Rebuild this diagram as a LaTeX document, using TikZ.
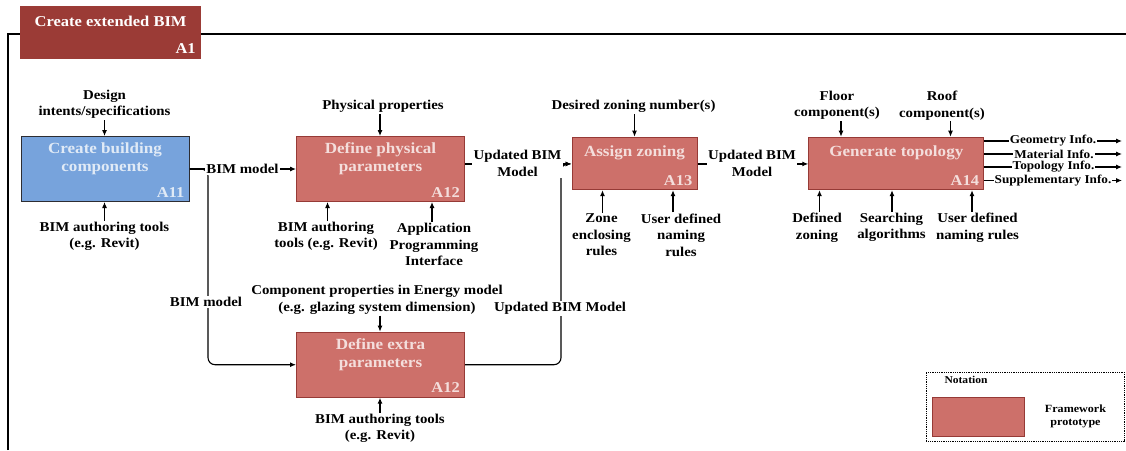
\documentclass[tikz,border=0pt]{standalone}
\usepackage{fontspec}
\setmainfont{Liberation Serif}[FakeStretch=1.1]
\usetikzlibrary{arrows.meta,calc}

\definecolor{hdrred}{RGB}{155,59,54}
\definecolor{protofill}{RGB}{205,112,106}
\definecolor{protoedge}{RGB}{150,58,54}
\definecolor{protofont}{RGB}{244,222,220}
\definecolor{bluefill}{RGB}{119,163,220}
\definecolor{blueedge}{RGB}{45,45,50}
\definecolor{bluefont}{RGB}{224,234,246}

\begin{document}
\begin{tikzpicture}[x=1pt,y=-1pt,
  frameline/.style={line width=1.8pt,black},
  protobox/.style={draw=protoedge,fill=protofill,line width=1pt,anchor=north west,inner sep=0pt},
  bluebox/.style={draw=blueedge,fill=bluefill,line width=1pt,anchor=north west,inner sep=0pt},
  boxtitle/.style={align=center,inner sep=0pt,font=\fontsize{15.5}{18}\selectfont\bfseries,text=protofont},
  boxid/.style={anchor=base east,inner sep=0pt,font=\fontsize{15}{18}\selectfont\bfseries,text=protofont},
  lbl/.style={align=center,inner sep=1pt,font=\fontsize{13.5}{16.5}\selectfont\bfseries},
  onlbl/.style={lbl,fill=white,inner sep=1.5pt},
  outlbl/.style={align=center,fill=white,inner sep=1pt,font=\fontsize{12}{14}\selectfont\bfseries},
  conn/.style={line width=1.1pt,black},
  arr/.style={conn,-{Latex[length=6pt,width=5pt]}},
  roundbend/.style={rounded corners=7pt}]

\useasboundingbox (0,0) rectangle (1126,450);

% outer frame of the A1 activity
\coordinate (fbl) at (8,450);
\coordinate (ftl) at (8,34);
\coordinate (ftr) at (1126,34);
\draw[frameline] (fbl) -- (ftl) -- (ftr);

% A1 header
\node[fill=hdrred,anchor=north west,minimum width=181,minimum height=53,inner sep=0pt] (A1) at (19.5,5.5) {};
\node[anchor=west,inner sep=0pt,text=white,font=\fontsize{15}{18}\selectfont\bfseries] (A1t) at ($(A1.north west)+(15,16)$) {Create extended BIM};
\node[boxid,text=white] (A1id) at ($(A1.south east)+(-5,-5)$) {A1};

% activity boxes
\node[bluebox,minimum width=168,minimum height=65] (A11) at (20.5,136) {};
\node[protobox,minimum width=168,minimum height=65] (A12) at (296,136) {};
\node[protobox,minimum width=125,minimum height=52.5] (A13) at (571.5,136.7) {};
\node[protobox,minimum width=175,minimum height=52.5] (A14) at (808.3,136.7) {};
\node[protobox,minimum width=168,minimum height=65] (A12b) at (296,331.7) {};

\node[boxtitle,text=bluefont] (A11t) at ($(A11.north)+(0,23)$) {Create building\\components};
\node[boxid,text=bluefont] (A11id) at ($(A11.south east)+(-5,-5)$) {A11};
\node[boxtitle] (A12t) at ($(A12.north)+(0,23)$) {Define physical\\parameters};
\node[boxid] (A12id) at ($(A12.south east)+(-5,-5)$) {A12};
\node[boxtitle] (A13t) at ($(A13.north)+(0,16.5)$) {Assign zoning};
\node[boxid] (A13id) at ($(A13.south east)+(-5,-5)$) {A13};
\node[boxtitle] (A14t) at ($(A14.north)+(0,16)$) {Generate topology};
\node[boxid] (A14id) at ($(A14.south east)+(-5,-5)$) {A14};
\node[boxtitle] (A12bt) at ($(A12b.north)+(0,23)$) {Define extra\\parameters};
\node[boxid] (A12bid) at ($(A12b.south east)+(-5,-5)$) {A12};

% inputs, controls and mechanisms
\node[lbl] (des) at (104.5,104.5) {Design\\intents/specifications};
\node[lbl] (bat1) at (104.5,236.5) {BIM authoring tools\\(e.g. Revit)};
\node[lbl] (phys) at (383,106.5) {Physical properties};
\node[lbl] (bat2) at (326,236.5) {BIM authoring\\tools (e.g. Revit)};
\node[lbl] (api) at (434,244.5) {Application\\Programming\\Interface};
\node[lbl] (comp) at (377,300) {Component properties in Energy model\\(e.g. glazing system dimension)};
\node[lbl] (bat3) at (380,428.5) {BIM authoring tools\\(e.g. Revit)};
\node[lbl] (des2) at (633.5,106.5) {Desired zoning number(s)};
\node[lbl] (zone) at (601.5,235) {Zone\\enclosing\\rules};
\node[lbl] (udn1) at (681,235) {User defined\\naming\\rules};
\node[lbl] (floor) at (837,105.5) {Floor\\component(s)};
\node[lbl] (roof) at (942,105.5) {Roof\\component(s)};
\node[lbl] (defz) at (817,227.5) {Defined\\zoning};
\node[lbl] (srch) at (891.5,227.5) {Searching\\algorithms};
\node[lbl] (udn2) at (977.5,227.5) {User defined\\naming rules};

\draw[arr] (des.south) -- (des.south |- A11.north);
\draw[arr] (bat1.north) -- (bat1.north |- A11.south);
\draw[arr] ([xshift=-3]phys.south) -- ([xshift=-3]phys.south |- A12.north);
\draw[arr] ([xshift=1.5]bat2.north) -- ([xshift=1.5]bat2.north |- A12.south);
\draw[arr] ([xshift=-2]api.north) -- ([xshift=-2]api.north |- A12.south);
\draw[arr] ([xshift=3]comp.south) -- ([xshift=3]comp.south |- A12b.north);
\draw[arr] (bat3.north) -- (bat3.north |- A12b.south);
\draw[arr] ([xshift=1]des2.south) -- ([xshift=1]des2.south |- A13.north);
\draw[arr] ([xshift=1]zone.north) -- ([xshift=1]zone.north |- A13.south);
\draw[arr] ([xshift=-8]udn1.north) -- ([xshift=-8]udn1.north |- A13.south);
\draw[arr] ([xshift=4]floor.south) -- ([xshift=4]floor.south |- A14.north);
\draw[arr] ([xshift=8.5]roof.south) -- ([xshift=8.5]roof.south |- A14.north);
\draw[arr] ([xshift=2.5]defz.north) -- ([xshift=2.5]defz.north |- A14.south);
\draw[arr] ([xshift=0.5]srch.north) -- ([xshift=0.5]srch.north |- A14.south);
\draw[arr] ([xshift=-5.5]udn2.north) -- ([xshift=-5.5]udn2.north |- A14.south);

% flows between activities
\coordinate (splitx) at (208,0);
\coordinate (joinx) at (561,0);
\coordinate (a13in) at ($(A13.west)+(0,0.5)$);
\draw[arr] (A11.east) -- (A11.east -| A12.west);
\draw[arr,roundbend] (A11.east) -| (splitx |- A12b.west) -- (A12b.west);
\draw[arr] (A12.east |- a13in) -- (a13in);
\draw[arr,roundbend] (A12b.east) -| (joinx |- a13in) -- (a13in);
\draw[arr] (A13.east |- a13in) -- (a13in -| A14.west);

\node[onlbl] (bm1) at (242.5,168.5) {BIM model};
\node[onlbl] (bm2) at (206,302) {BIM model};
\node[onlbl] (up1) at (517.5,163.5) {Updated BIM\\Model};
\node[onlbl] (up2) at (560,308.5) {Updated BIM Model};
\node[onlbl] (up3) at (752,163.5) {Updated BIM\\Model};

% outputs of topology generation
\coordinate (o1) at (1122,141);
\coordinate (o2) at (1122,154);
\coordinate (o3) at (1122,167);
\coordinate (o4) at (1122,180.5);
\draw[arr] (A14.east |- o1) -- (o1);
\draw[arr] (A14.east |- o2) -- (o2);
\draw[arr] (A14.east |- o3) -- (o3);
\draw[arr] (A14.east |- o4) -- (o4);
\node[outlbl] (geo) at (1053,141) {Geometry Info.};
\node[outlbl] (mat) at (1054,154) {Material Info.};
\node[outlbl] (topo) at (1053.5,167) {Topology Info.};
\node[outlbl] (supp) at (1053,180.5) {Supplementary Info.};

% notation legend
\node[draw,densely dotted,line width=0.8pt,anchor=north west,minimum width=198,minimum height=69,inner sep=0pt] (leg) at (926,371.7) {};
\node[inner sep=0pt,font=\fontsize{10.5}{12}\selectfont\bfseries] (legt) at (966,380) {Notation};
\node[protobox,minimum width=92,minimum height=39.5] (legbox) at (932.3,396.7) {};
\node[align=center,inner sep=0pt,font=\fontsize{11}{13.5}\selectfont\bfseries] (legl) at (1075.5,416.5) {Framework\\prototype};
\end{tikzpicture}
\end{document}
